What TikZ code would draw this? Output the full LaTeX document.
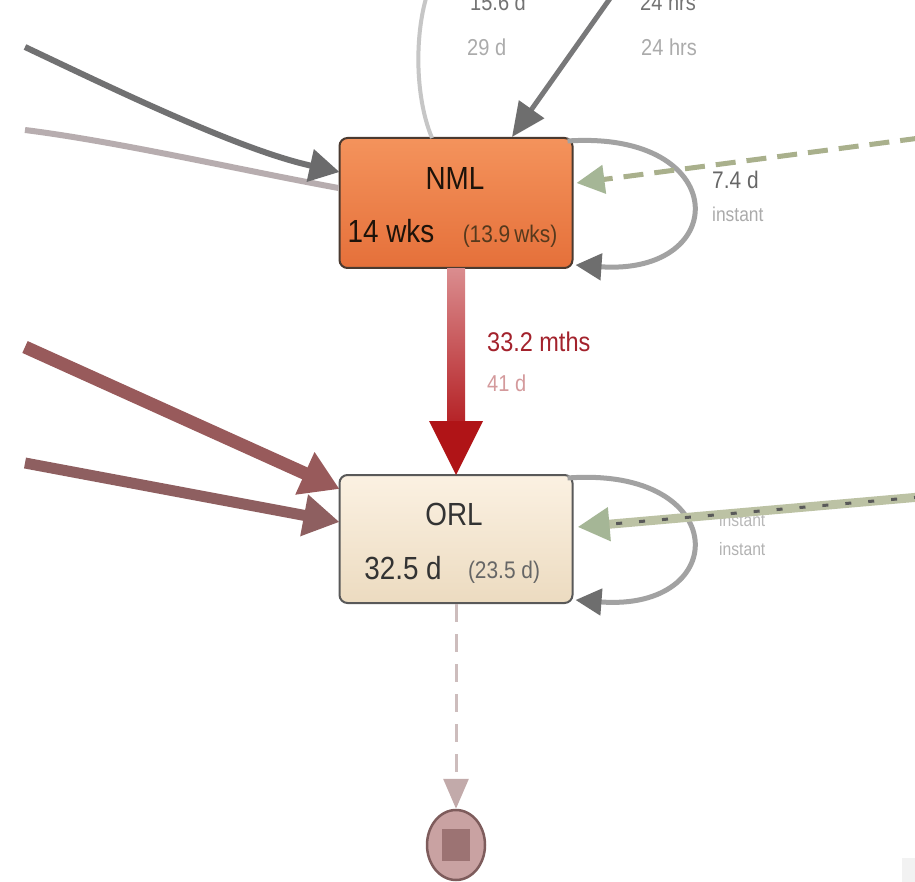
\documentclass[tikz,border=0pt]{standalone}
\usepackage{fontspec}
\setmainfont{Liberation Sans}[FakeStretch=0.87]
\usetikzlibrary{arrows.meta,calc,shapes.geometric}
\definecolor{nmltop}{HTML}{F4935C}
\definecolor{nmlbot}{HTML}{E5703A}
\definecolor{orltop}{HTML}{FBF1E2}
\definecolor{orlbot}{HTML}{ECDBC0}
\definecolor{boxedge}{HTML}{4A3A30}
\definecolor{redhead}{HTML}{B01417}
\definecolor{redtop}{HTML}{DA8C8E}
\definecolor{redbot}{HTML}{B52226}
\definecolor{loopgray}{HTML}{A2A2A2}
\definecolor{loophead}{HTML}{6E6E6E}
\definecolor{greenline}{HTML}{A9B08C}
\definecolor{greenhead}{HTML}{A5B696}
\definecolor{greenthick}{HTML}{BCC2A4}
\definecolor{darkgray}{HTML}{717172}
\definecolor{lightpink}{HTML}{B7ADAF}
\definecolor{brownA}{HTML}{985A5B}
\definecolor{brownB}{HTML}{8E5F60}
\definecolor{topgray}{HTML}{C6C6C6}
\definecolor{endfill}{HTML}{C9A2A2}
\definecolor{endedge}{HTML}{7E5C5C}
\definecolor{endsq}{HTML}{9C7373}
\definecolor{enddash}{HTML}{CDBDBD}
\definecolor{endhead}{HTML}{C2AAAA}
\definecolor{labred}{HTML}{A3222C}
\definecolor{labpink}{HTML}{D49A9C}
\begin{document}
\begin{tikzpicture}[x=1pt,y=-1pt,
  procbox/.style={draw=boxedge,line width=2pt,rounded corners=8pt,minimum width=233pt,inner sep=0pt},
  ttl/.style={font=\fontsize{32}{34}\selectfont,inner sep=0pt},
  val/.style={font=\fontsize{32}{34}\selectfont,inner sep=0pt},
  sub/.style={font=\fontsize{24}{26}\selectfont,inner sep=0pt},
  lab/.style={font=\fontsize{23}{25}\selectfont,inner sep=0pt,anchor=west},
  faint/.style={lab,text=black!33},
]
\clip (0,0) rectangle (915,882);
\fill[white] (0,0) rectangle (915,882);
\fill[black!5] (902,858) rectangle (915,882);

% nodes
\node[procbox,minimum height=130pt,top color=nmltop,bottom color=nmlbot] (nml) at (456,203) {};
\node[procbox,minimum height=128pt,draw=black!65,top color=orltop,bottom color=orlbot] (orl) at (456,539) {};
\node[ellipse,draw=endedge,line width=2.5pt,fill=endfill,minimum width=58pt,minimum height=70pt,inner sep=0pt,
  path picture={\fill[endsq] ($(path picture bounding box.center)+(-14,-16)$) rectangle ($(path picture bounding box.center)+(14,16)$);}] (end) at (456,845) {};

% text inside boxes
\node[ttl,text=black!85!brown] (nmlname) at (455,178) {NML};
\node[val,text=black!85!brown] (nmlval) at (391,231) {14 wks};
\node[sub,text=black!55!brown] (nmlsub) at (510,236) {(13.9\,wks)};
\node[ttl,text=black!80] (orlname) at (454,514) {ORL};
\node[val,text=black!80] (orlval) at (403,568) {32.5 d};
\node[sub,text=black!60] (orlsub) at (504,572) {(23.5 d)};

% free ends
\coordinate (l1) at (25,47);
\coordinate (l2) at (25,130);
\coordinate (l3) at (25,347);
\coordinate (l4) at (25,463);
\coordinate (t1) at (428,-8);
\coordinate (t2) at (616,-10);
\coordinate (r1) at (920,138);
\coordinate (r2) at (920,497);

% left edges into NML
\draw[lightpink,line width=6pt] (l2) .. controls (120,142) and (240,170) .. ($(nml.west)+(0,-15)$);
\draw[darkgray,line width=6pt,-{Triangle[length=30pt,width=32pt,color=darkgray!95!black]}]
  (l1) .. controls (120,92) and (240,150) .. ($(nml.west)+(1,-31)$);

% top edges
\draw[topgray,line width=4pt] ($(nml.north)+(-24,1)$) .. controls (414,95) and (415,30) .. (t1);
\draw[darkgray!95,line width=5pt,-{Triangle[length=34pt,width=30pt,color=loophead]}] (t2) -- ($(nml.north)+(56,0)$);

% NML self loop
\draw[loopgray,line width=5pt,-{Triangle[length=26pt,width=26pt,color=loophead]}]
  ($(nml.north east)+(-6,4)$) .. controls (732,130) and (732,276) .. ($(nml.south east)+(2,-4)$);

% green dashed into NML
\draw[greenline,line width=5pt,dash pattern=on 20pt off 11pt,-{Triangle[length=28pt,width=28pt,color=greenhead]}]
  (r1) -- ($(nml.east)+(3,-20)$);

% main NML -> ORL arrow
\shade[top color=redtop,bottom color=redbot] ($(nml.south)+(-9,0)$) rectangle ($(orl.north)+(9,-50)$);
\fill[redhead] ($(orl.north)+(-27,-53)$) -- ($(orl.north)+(27,-53)$) -- ($(orl.north)+(0,1)$) -- cycle;

% left edges into ORL
\draw[brownA,line width=13pt,-{Triangle[length=38pt,width=44pt,color=brownA]}] (l3) -- ($(orl.north west)+(1,15)$);
\draw[brownB,line width=11pt,-{Triangle[length=36pt,width=40pt,color=brownB]}] (l4) -- ($(orl.west)+(1,-17)$);

% ORL self loop
\draw[loopgray,line width=5pt,-{Triangle[length=26pt,width=26pt,color=loophead]}]
  ($(orl.north east)+(-6,4)$) .. controls (732,466) and (732,612) .. ($(orl.south east)+(2,-4)$);

% labels
\node[faint] (lab29) at (467,47) {29 d};
\node[faint] (lab24) at (641,47) {24 hrs};
\node[lab,text=black!55] (labtopa) at (470,2) {15.6 d};
\node[lab,text=black!55] (labtopb) at (640,2) {24 hrs};
\node[lab,font=\fontsize{27}{29}\selectfont,text=labred] (lab332) at (487,342) {33.2 mths};
\node[lab,text=labpink] (lab41) at (487,383) {41 d};
\node[lab,font=\fontsize{24}{26}\selectfont,text=black!60] (lab74) at (712,180) {7.4 d};
\node[faint,font=\fontsize{20}{22}\selectfont] (labinst1) at (712,214) {instant};
\node[faint,font=\fontsize{18}{20}\selectfont,text=black!28] (labinst2) at (719,520) {instant};
\node[faint,font=\fontsize{18}{20}\selectfont,text=black!30] (labinst3) at (719,549) {instant};

% green hatched into ORL
\draw[greenthick,line width=9pt,-{Triangle[length=32pt,width=32pt,color=greenhead]}] (r2) -- ($(orl.east)+(4,-12)$);
\draw[black!65,line width=3pt,dash pattern=on 6pt off 17pt,shorten >=36pt] (r2) -- ($(orl.east)+(4,-12)$);

% ORL -> end
\draw[enddash,line width=3pt,dash pattern=on 18pt off 12pt,-{Triangle[length=30pt,width=25pt,color=endhead]}]
  (orl.south) -- (end.north);
\end{tikzpicture}
\end{document}
